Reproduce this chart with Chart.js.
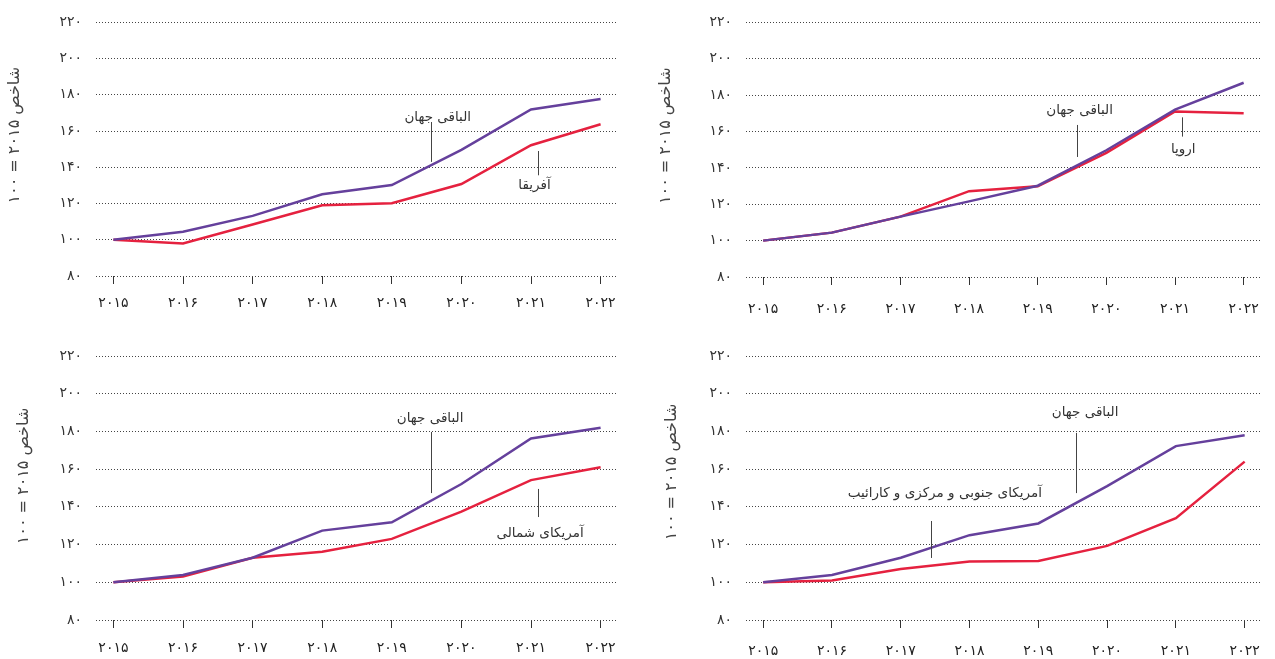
<!DOCTYPE html>
<html><head><meta charset="utf-8">
<script src="https://cdn.jsdelivr.net/npm/chart.js@4"></script>
<style>
html,body{margin:0;padding:0;background:#fff;}
body{width:1275px;height:659px;position:relative;overflow:hidden;}
canvas{position:absolute;}
</style></head><body>
<canvas id="c1" width="640" height="330" style="left:0;top:0"></canvas>
<canvas id="c2" width="635" height="330" style="left:640px;top:0"></canvas>
<canvas id="c3" width="640" height="329" style="left:0;top:330px"></canvas>
<canvas id="c4" width="635" height="329" style="left:640px;top:330px"></canvas>
<script>
// ---- data ----
const years = [2015, 2016, 2017, 2018, 2019, 2020, 2021, 2022];
const xTickLabels = ['۲۰۱۵','۲۰۱۶','۲۰۱۷','۲۰۱۸','۲۰۱۹','۲۰۲۰','۲۰۲۱','۲۰۲۲'];
const yTickValues = [80, 100, 120, 140, 160, 180, 200, 220];
const yTickLabels = ['۸۰','۱۰۰','۱۲۰','۱۴۰','۱۶۰','۱۸۰','۲۰۰','۲۲۰'];
const yAxisTitle = 'شاخص ۲۰۱۵ = ۱۰۰';
const restName = 'الباقی جهان';
const regionNames = ['آفریقا', 'اروپا', 'آمریکای شمالی', 'آمریکای جنوبی و مرکزی و کارائیب'];

const africa          = [100, 98.0, 108.4, 119.0, 120.2, 130.8, 152.2, 163.8];
const restVsAfrica    = [100, 104.4, 113.2, 125.1, 130.2, 149.6, 171.9, 177.7];
const europe          = [100, 104.4, 113.2, 127.2, 129.9, 148.3, 171.0, 170.0];
const restVsEurope    = [100, 104.4, 113.2, 121.6, 130.2, 149.7, 172.0, 186.8];
const northAmerica    = [100, 103.0, 113.0, 116.2, 123.0, 137.5, 154.2, 161.0];
const restVsNorthAm   = [100, 103.9, 113.0, 127.4, 131.8, 152.1, 176.3, 182.0];
const southAmerica    = [100, 100.9, 107.0, 111.0, 111.3, 119.3, 134.0, 164.0];
const restVsSouthAm   = [100, 103.9, 113.0, 125.0, 131.2, 151.0, 172.2, 178.0];

// ---- styles ----
const PURPLE = '#65409c';
const RED = '#e5213f';
const FONT = "'DejaVu Sans', sans-serif";
const TEXT = '#333333';

function pts(vals) { return years.map((y, i) => ({ x: y, y: vals[i] })); }

const notesPlugin = {
  id: 'notes',
  afterDatasetsDraw(chart, args, opts) {
    const ctx = chart.ctx, xs = chart.scales.x, ys = chart.scales.y;
    ctx.save();
    (opts.items || []).forEach(n => {
      ctx.strokeStyle = '#444';
      ctx.lineWidth = 1;
      const lx = Math.round(xs.getPixelForValue(n.lineX)) + 0.5;
      ctx.beginPath();
      ctx.moveTo(lx, ys.getPixelForValue(n.lineY1));
      ctx.lineTo(lx, ys.getPixelForValue(n.lineY2));
      ctx.stroke();
      ctx.fillStyle = TEXT;
      ctx.font = '13.5px ' + FONT;
      ctx.textAlign = 'center';
      ctx.textBaseline = 'middle';
      ctx.fillText(n.text, xs.getPixelForValue(n.textX), ys.getPixelForValue(n.textY));
    });
    ctx.restore();
  }
};

const yTitlePlugin = {
  id: 'ytitle',
  afterDraw(chart, args, opts) {
    const ctx = chart.ctx, ca = chart.chartArea;
    ctx.save();
    ctx.translate(opts.x, (ca.top + ca.bottom) / 2 + opts.dy);
    ctx.rotate(-Math.PI / 2);
    ctx.fillStyle = '#444';
    ctx.font = '16px ' + FONT;
    ctx.textAlign = 'center';
    ctx.textBaseline = 'middle';
    ctx.fillText(yAxisTitle, 0, 0);
    ctx.restore();
  }
};

function makeChart(id, regionVals, restVals, lay, notes) {
  const canvas = document.getElementById(id);
  new Chart(canvas, {
    type: 'line',
    data: {
      datasets: [
        { label: restName, data: pts(restVals), borderColor: PURPLE, borderWidth: 2.5, pointRadius: 0, tension: 0 },
        { label: 'region', data: pts(regionVals), borderColor: RED, borderWidth: 2.5, pointRadius: 0, tension: 0 }
      ]
    },
    options: {
      responsive: false,
      animation: false,
      devicePixelRatio: 1,
      layout: { padding: { left: 0, top: lay.top, right: canvas.width - lay.right, bottom: 0 } },
      plugins: {
        legend: { display: false },
        tooltip: { enabled: false },
        notes: { items: notes },
        ytitle: { x: lay.titleX, dy: lay.titleDy }
      },
      scales: {
        x: {
          type: 'linear',
          min: years[0] - 0.25,
          max: years[years.length - 1] + 0.25,
          afterBuildTicks: s => { s.ticks = years.map(v => ({ value: v })); },
          afterFit: s => { s.height = canvas.height - lay.bottom; },
          grid: { display: true, drawOnChartArea: false, drawTicks: true, tickLength: 8, color: '#333', lineWidth: 1 },
          border: { display: false },
          ticks: {
            autoSkip: false, maxRotation: 0, padding: lay.xPad,
            color: '#222', font: { family: FONT, size: 14 },
            callback: v => xTickLabels[years.indexOf(v)]
          }
        },
        y: {
          min: 80, max: 220,
          afterBuildTicks: s => { s.ticks = yTickValues.map(v => ({ value: v })); },
          afterFit: s => { s.width = lay.left; },
          grid: { color: '#444', lineWidth: 1, drawTicks: false },
          border: { display: false, dash: [1, 2] },
          ticks: {
            padding: 14, color: TEXT, font: { family: FONT, size: 14 },
            callback: v => yTickLabels[yTickValues.indexOf(v)]
          }
        }
      }
    },
    plugins: [notesPlugin, yTitlePlugin]
  });
}

makeChart('c1', africa, restVsAfrica,
  { left: 96, right: 618, top: 14, bottom: 276, xPad: 11, titleX: 15, titleDy: -14 },
  [
    { text: restName, textX: 2019.66, textY: 167.6, lineX: 2019.56, lineY1: 165, lineY2: 143 },
    { text: regionNames[0], textX: 2021.05, textY: 129.7, lineX: 2021.1, lineY1: 149, lineY2: 135.6 }
  ]);

makeChart('c2', europe, restVsEurope,
  { left: 106, right: 626, top: 14, bottom: 277, xPad: 16, titleX: 26, titleDy: -14 },
  [
    { text: restName, textX: 2019.61, textY: 171.5, lineX: 2019.57, lineY1: 163.6, lineY2: 146 },
    { text: regionNames[1], textX: 2021.12, textY: 150.3, lineX: 2021.1, lineY1: 167.8, lineY2: 157.2 }
  ]);

makeChart('c3', northAmerica, restVsNorthAm,
  { left: 96, right: 618, top: 26, bottom: 290, xPad: 12, titleX: 24, titleDy: -12 },
  [
    { text: restName, textX: 2019.55, textY: 187.1, lineX: 2019.56, lineY1: 179.7, lineY2: 147.3 },
    { text: regionNames[2], textX: 2021.13, textY: 126.1, lineX: 2021.1, lineY1: 149.5, lineY2: 134.6 }
  ]);

makeChart('c4', southAmerica, restVsSouthAm,
  { left: 106, right: 626, top: 26, bottom: 290, xPad: 15, titleX: 32, titleDy: -16 },
  [
    { text: restName, textX: 2019.68, textY: 189.8, lineX: 2019.55, lineY1: 179.2, lineY2: 147.3 },
    { text: regionNames[3], textX: 2017.64, textY: 147.3, lineX: 2017.44, lineY1: 132.5, lineY2: 112.9 }
  ]);
</script>
</body></html>
